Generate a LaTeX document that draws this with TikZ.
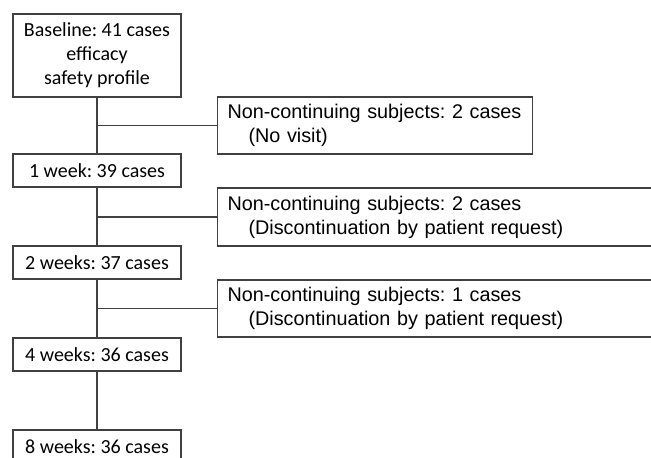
\documentclass[tikz,border=0pt]{standalone}
\usepackage{fontspec}
\setmainfont{Carlito}
\newfontfamily\arialfont{Liberation Sans}
\frenchspacing
\begin{document}
\begin{tikzpicture}[x=1pt,y=-1pt,
  link/.style={draw=black!75, line width=1.1pt},
  stage/.style={draw=black!75, line width=1.1pt, rectangle, inner sep=0pt,
    minimum width=168pt, minimum height=33pt, align=center,
    font=\fontsize{20}{24}\selectfont, text=black},
  drop/.style={draw=black!75, line width=1.1pt, rectangle, inner xsep=10pt, inner ysep=0pt,
    align=left, anchor=west,
    font=\arialfont\fontsize{19.8}{24}\selectfont, text=black}]
\useasboundingbox (0,0) rectangle (651,458);
\begin{scope}
\clip (0,0) rectangle (651,458);
\node[stage, minimum height=83pt] (base) at (97,55.5) {Baseline: 41 cases\\efficacy\\safety profile};
\node[stage] (w1) at (97,170.5) {1 week: 39 cases};
\node[stage] (w2) at (97,262.5) {2 weeks: 37 cases};
\node[stage] (w4) at (97,354.5) {4 weeks: 36 cases};
\node[stage] (w8) at (97,446.5) {8 weeks: 36 cases};
\node[drop, text width=295pt, minimum height=57pt] (r1) at (217,125.5)
  {Non-continuing subjects: 2 cases\\\hspace*{21pt}(No visit)};
\node[drop, text width=460pt, minimum height=58pt] (r2) at (217,217)
  {Non-continuing subjects: 2 cases\\\hspace*{21pt}(Discontinuation by patient request)};
\node[drop, text width=460pt, minimum height=57pt] (r3) at (217,308.5)
  {Non-continuing subjects: 1 cases\\\hspace*{21pt}(Discontinuation by patient request)};
\draw[link] (base.south) -- (w1.north);
\draw[link] (w1.south) -- (w2.north);
\draw[link] (w2.south) -- (w4.north);
\draw[link] (w4.south) -- (w8.north);
\draw[link] (base.south |- r1.west) -- (r1.west);
\draw[link] (w1.south |- r2.west) -- (r2.west);
\draw[link] (w2.south |- r3.west) -- (r3.west);
\end{scope}
\end{tikzpicture}
\end{document}
